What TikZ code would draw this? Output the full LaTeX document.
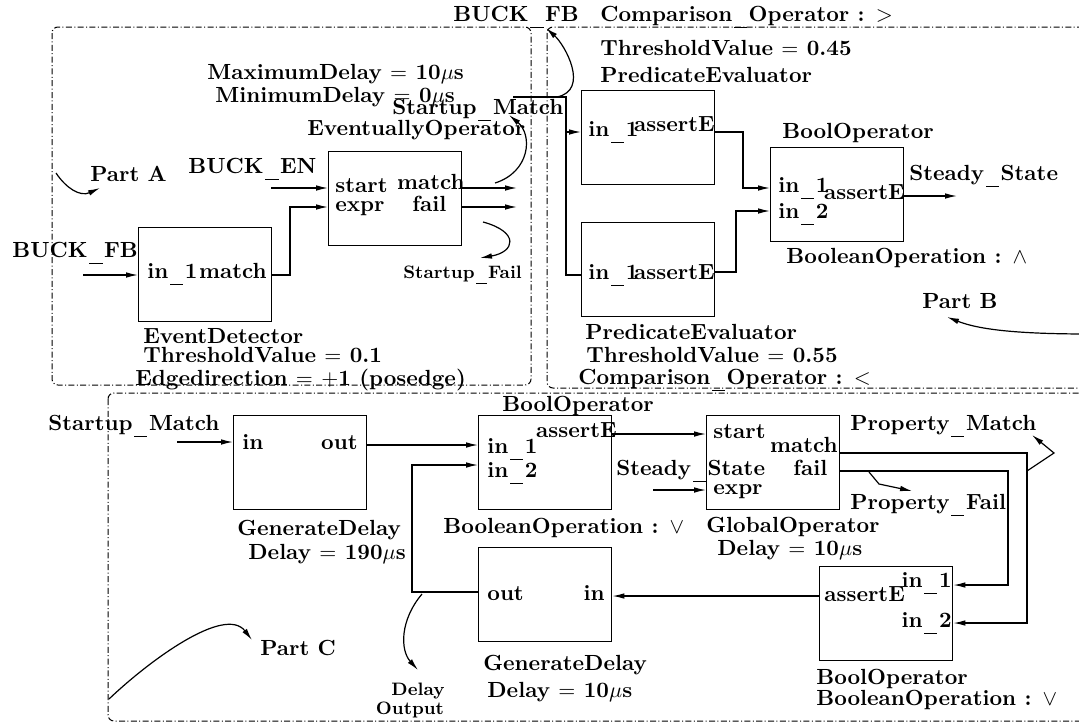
\documentclass[tikz,border=0pt]{standalone}
\usetikzlibrary{arrows.meta,calc}
% low, wide underscore used inside signal and port names
\newcommand\us{\kern.08em\rule[-.33em]{.6em}{.055em}\kern.07em}
\begin{document}
\begin{tikzpicture}[x=0.5pt,y=-0.5pt,
  lbl/.style={anchor=base west,inner sep=0pt,font=\fontsize{10.95}{13}\selectfont\bfseries},
  lble/.style={lbl,anchor=base east},
  small/.style={anchor=base,inner sep=0pt,font=\fontsize{9}{11}\selectfont\bfseries},
  blk/.style={draw,line width=0.7pt,minimum width=66.5pt,minimum height=47pt,inner sep=0pt,anchor=north west},
  wire/.style={line width=0.6pt},
  arr/.style={wire,-{Latex[length=6pt,width=2.8pt]}},
  frame/.style={line width=0.5pt,dash pattern=on 3pt off 1.2pt on 0.5pt off 1.2pt,rounded corners=3pt}]
\clip (0,0) rectangle (1079,724);

% ---------- part frames ----------
\draw[frame] (52,27) rectangle (531,385);
\draw[frame] (547,27) rectangle (1110,388);
\draw[frame] (108,393) rectangle (1110,721);

% ---------- blocks ----------
\node[blk] (ed)  at (138,227) {};
\node[blk] (ev)  at (328,151) {};
\node[blk] (pe1) at (581,90)  {};
\node[blk] (pe2) at (581,222) {};
\node[blk] (bob) at (770,147) {};
\node[blk] (gd1) at (233,415) {};
\node[blk] (boc) at (478,415) {};
\node[blk] (go)  at (706,415) {};
\node[blk] (gd2) at (478,547) {};
\node[blk] (bod) at (819,566) {};

% ---------- port labels ----------
\node[lbl]  (ed-i)  at (147,278) {in\us1};
\node[lble] (ed-o)  at (267,278) {match};
\node[lbl]  (ev-s)  at (335,192) {start};
\node[lble] (ev-m)  at (465,189) {match};
\node[lbl]  (ev-e)  at (335,211) {expr};
\node[lbl]  (ev-f)  at (412,211) {fail};
\node[lbl]  (p1-i)  at (588,136) {in\us1};
\node[lble] (p1-o)  at (715,131) {assertE};
\node[lbl]  (p2-i)  at (588,279) {in\us1};
\node[lble] (p2-o)  at (715,279) {assertE};
\node[lbl]  (bb-1)  at (778,192) {in\us1};
\node[lbl]  (bb-2)  at (778,218) {in\us2};
\node[lble] (bb-o)  at (905,199) {assertE};
\node[lbl]  (g1-i)  at (242,449) {in};
\node[lble] (g1-o)  at (358,449) {out};
\node[lbl]  (bc-1)  at (487,453) {in\us1};
\node[lbl]  (bc-2)  at (487,477) {in\us2};
\node[lble] (bc-o)  at (617,437) {assertE};
\node[lbl]  (go-s)  at (713,438) {start};
\node[lble] (go-m)  at (838,452) {match};
\node[lbl]  (go-f)  at (793,475) {fail};
\node[lbl]  (go-e)  at (713,494) {expr};
\node[lbl]  (g2-o)  at (487,600) {out};
\node[lble] (g2-i)  at (605,600) {in};
\node[lbl]  (bd-o)  at (824,601) {assertE};
\node[lble] (bd-1)  at (952,587) {in\us1};
\node[lble] (bd-2)  at (952,627) {in\us2};

% ---------- part A texts ----------
\node[lbl] (tfb)   at (12,257)  {BUCK\us FB};
\node[lbl] (tpa)   at (90,181)  {Part A};
\node[lbl] (ten)   at (188,173) {BUCK\us EN};
\node[lbl] (tmax)  at (207,79)  {MaximumDelay $=$ 10$\mu$s};
\node[lbl] (tmin)  at (215,102) {MinimumDelay $=$ 0$\mu$s};
\node[lbl] (tsm)   at (392,114) {Startup\us Match};
\node[lbl] (tev)   at (307,135) {EventuallyOperator};
\node[lbl] (ted)   at (143,343) {EventDetector};
\node[lbl] (tth1)  at (143,362) {ThresholdValue $=$ 0.1};
\node[lbl] (tedge) at (135,385) {Edgedirection $=$ $+$1 (posedge)};
\node[small,anchor=base west] (tsf) at (403,278) {Startup\us Fail};

% ---------- part B texts ----------
\node[lbl] (tfb2)  at (453,21)  {BUCK\us FB};
\node[lbl] (tcmp1) at (600,21)  {Comparison\us Operator : $>$};
\node[lbl] (tth2)  at (600,55)  {ThresholdValue $=$ 0.45};
\node[lbl] (tpe1)  at (600,82)  {PredicateEvaluator};
\node[lbl] (tpe2)  at (585,339) {PredicateEvaluator};
\node[lbl] (tth3)  at (586,362) {ThresholdValue $=$ 0.55};
\node[lbl] (tcmp2) at (578,384) {Comparison\us Operator : $<$};
\node[lbl] (tbob)  at (782,138) {BoolOperator};
\node[lbl] (tss)   at (909,180) {Steady\us State};
\node[lbl] (tand)  at (786,263) {BooleanOperation : $\wedge$};
\node[lbl] (tpb)   at (922,308) {Part B};

% ---------- part C texts ----------
\node[lbl] (tsm2)  at (48,430)  {Startup\us Match};
\node[lbl] (tgd1)  at (237,535) {GenerateDelay};
\node[lbl] (tdl1)  at (248,559) {Delay $=$ 190$\mu$s};
\node[lbl] (tpc)   at (260,655) {Part C};
\node[lbl] (tboc)  at (502,411) {BoolOperator};
\node[lbl] (tor1)  at (443,533) {BooleanOperation : $\vee$};
\node[lbl] (tgd2)  at (483,670) {GenerateDelay};
\node[lbl] (tdl2)  at (487,697) {Delay $=$ 10$\mu$s};
\node[small] (tdo1) at (418,695) {Delay};
\node[small] (tdo2) at (410,714) {Output};
\node[lbl] (tss2)  at (616,475) {Steady\us State};
\node[lbl] (tgo)   at (706,532) {GlobalOperator};
\node[lbl] (tdl3)  at (717,555) {Delay $=$ 10$\mu$s};
\node[lbl] (tpm)   at (850,430) {Property\us Match};
\node[lbl] (tpf)   at (850,509) {Property\us Fail};
\node[lbl] (tbod)  at (816,684) {BoolOperator};
\node[lbl] (tor2)  at (816,705) {BooleanOperation : $\vee$};

% ---------- free wire ends ----------
\coordinate (fbS)  at (83,275);
\coordinate (enS)  at (271,188);
\coordinate (mE)   at (517,188);
\coordinate (fE)   at (517,207);
\coordinate (smS)  at (513,97);
\coordinate (smJ)  at (566,97);
\coordinate (ssE)  at (957,196);
\coordinate (sm2S) at (177,442);
\coordinate (ss2S) at (653,490);

% ---------- part A wires ----------
\draw[arr] (fbS) -- (fbS -| ed.west);
\draw[arr] (ed.east |- fbS) -- (290,275) |- (ev.west |- fE);
\draw[arr] (enS) -- (enS -| ev.west);
\draw[arr] (ev.east |- mE) -- (mE);
\draw[arr] (ev.east |- fE) -- (fE);
\draw[arr] (495,183) .. controls (530,172) and (533,135) .. (509,115);
\draw[arr] (483,222) .. controls (520,232) and (515,252) .. (480,258);
\draw[arr] (56,173) .. controls (66,188) and (80,197) .. (100,188);

% ---------- part B wires ----------
\draw[wire] (smS) -- (smJ) |- (pe2.west |- 0,275);
\draw[arr] (smJ |- 0,132) -- (pe1.west |- 0,132);
\draw[arr] (557,97) .. controls (590,90) and (565,45) .. (546,28);
\draw[arr] (pe1.east |- 0,132) -| (743,188) -- (bob.west |- 0,188);
\draw[arr] (pe2.east |- 0,272) -| (736,211) -- (bob.west |- 0,211);
\draw[arr] (bob.east |- ssE) -- (ssE);
\draw[arr] (1090,334) .. controls (1020,334) and (980,330) .. (947,317);

% ---------- part C wires ----------
\draw[arr] (sm2S) -- (sm2S -| gd1.west);
\draw[arr] (gd1.east |- 0,445) -- (boc.west |- 0,445);
\draw[arr] (gd2.west |- 0,592) -| (412,465) -- (boc.west |- 0,465);
\draw[arr] (422,594) .. controls (400,620) and (400,650) .. (418,670);
\draw[arr] (109,699) .. controls (150,660) and (225,605) .. (252,640);
\draw[arr] (boc.east |- 0,434) -- (go.west |- 0,434);
\draw[arr] (ss2S) -- (ss2S -| go.west);
\draw[arr] (go.east |- 0,453) -| (1027,623) -- (bod.east |- 0,623);
\draw[arr] (go.east |- 0,471) -| (1008,585) -- (bod.east |- 0,585);
\draw[arr] (1027,471) -- (1054,453) -- (1032,435);
\draw[arr] (869,472) -- (879,484) -- (912,491);
\draw[arr] (bod.west |- 0,596) -- (gd2.east |- 0,596);
\end{tikzpicture}
\end{document}
